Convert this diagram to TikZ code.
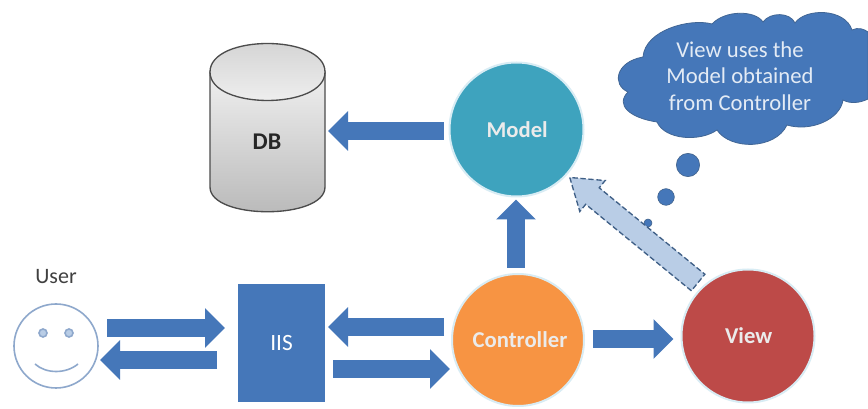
\documentclass[tikz,border=0pt]{standalone}
\usepackage{fontspec}
\setmainfont{Carlito}
\usetikzlibrary{arrows.meta,calc}
\definecolor{blk}{HTML}{4577B9}
\definecolor{modelc}{HTML}{3EA3BE}
\definecolor{ctrlc}{HTML}{F79443}
\definecolor{viewc}{HTML}{BD4A48}
\definecolor{rimc}{HTML}{D8ECF4}
\definecolor{facec}{HTML}{8EA8CC}
\definecolor{dashc}{HTML}{3F5F86}
\definecolor{palec}{HTML}{B9CDE6}
\tikzset{
  x=.75pt,y=-.75pt,
  ball/.style={circle,inner sep=0pt,outer sep=0pt,minimum size=#1*.75pt,draw=rimc,line width=1.5pt,text=white!92!black,font=\fontsize{17}{20}\selectfont\bfseries},
  blockarrow/.style={draw=blk,line width=14pt,-{Triangle[length=15pt,width=29pt,fill=blk]}},
  labeltext/.style={inner sep=0pt,align=center,font=\fontsize{16.5}{18}\selectfont},
  bubble/.style={circle,fill=blk,draw=dashc,line width=.4pt,inner sep=0pt},
}
\begin{document}
\begin{tikzpicture}
\useasboundingbox (0,0) rectangle (868,409);
\fill[white] (0,0) rectangle (868,409);
% DB
\shade[top color=white!88!gray,bottom color=black!28,draw=black!70,line width=1pt]
  (210,72) -- (210,187) .. controls (210,220) and (325,220) .. (325,187) -- (325,72) -- cycle;
\shade[top color=black!18,bottom color=black!5,draw=black!70,line width=1pt]
  (210,72) .. controls (210,34) and (325,34) .. (325,72) .. controls (325,110) and (210,110) .. (210,72) -- cycle;
\node[inner sep=0pt,outer sep=0pt,minimum width=86.25pt,minimum height=126pt] (db) at (267.5,128) {};
\node[inner sep=0pt,text=black!85,font=\fontsize{18}{20}\selectfont\bfseries] (dblabel) at (267,142) {DB};
% circles
\node[ball=134,fill=modelc] (model) at (516.5,129.5) {\hspace{1pt}Model};
\node[ball=132,fill=ctrlc] (ctrl) at (518,340) {\hspace{3pt}Controller};
\node[ball=133,fill=viewc] (view) at (748,336) {\hspace{1pt}View};
% IIS
\node[inner sep=0pt,outer sep=0pt,minimum width=65.25pt,minimum height=88.5pt,fill=blk,text=white,font=\fontsize{17.5}{20}\selectfont] (iis) at (281.5,343) {IIS};
% user
\node[circle,draw=facec,line width=1.2pt,minimum size=63pt,inner sep=0pt,outer sep=0pt] (user) at (56,346) {};
\node[circle,draw=facec,line width=1.2pt,fill=palec,minimum size=6pt,inner sep=0pt] (eyeL) at (43,333) {};
\node[circle,draw=facec,line width=1.2pt,fill=palec,minimum size=6pt,inner sep=0pt] (eyeR) at (69,333) {};
\draw[facec,line width=1.2pt] (35,364) .. controls (46,374) and (66,374) .. (78,364);
\node[labeltext,text=black!75] (userlabel) at (56,277) {User};
% block arrows
\draw[blockarrow] ($(model.west)+(-6,1.5)$) -- ($(db.east)+(3,3)$);
\draw[blockarrow] ($(user.east)+(9,-18)$) -- ($(iis.west)+(-13,-15)$);
\draw[blockarrow] ($(iis.west)+(-21,17)$) -- ($(user.east)+(2,14)$);
\draw[blockarrow] ($(ctrl.west)+(-8,-13)$) -- ($(iis.east)+(3,-16)$);
\draw[blockarrow] ($(iis.east)+(8,26)$) -- ($(ctrl.west)+(-2,29)$);
\draw[blockarrow] ($(ctrl.north)+(-2,-6)$) -- ($(model.south)+(-.5,3)$);
\draw[blockarrow] ($(ctrl.east)+(9,-1)$) -- ($(view.west)+(-8,3)$);
% cloud
\draw[fill=blk,draw=dashc!70!blk,line width=.6pt]
  (643,57) .. controls (645,30) and (690,18) .. (712,24)
  .. controls (725,10) and (755,10) .. (763,22)
  .. controls (770,12) and (790,12) .. (795,23)
  .. controls (805,8) and (845,8) .. (852,30)
  .. controls (858,27) and (864,29) .. (868,32)
  -- (868,99)
  .. controls (860,103) and (850,104) .. (843,100)
  .. controls (840,120) and (810,132) .. (787,125)
  .. controls (775,150) and (730,150) .. (717,130)
  .. controls (700,142) and (665,140) .. (657,122)
  .. controls (630,118) and (615,105) .. (628,92)
  .. controls (612,85) and (615,62) .. (643,57) -- cycle;
\node[labeltext,text=white!85!blk,font=\fontsize{17}{20}\selectfont] (cloudtext) at (740,76) {View uses the\\Model obtained\\from Controller};
\node[bubble,minimum size=17.5pt] (b1) at (688,165) {};
\node[bubble,minimum size=12.5pt] (b2) at (666,197) {};
\node[bubble,minimum size=6pt] (b3) at (648,223) {};
% dashed arrow View -> Model
\coordinate (tip) at ($(model.center)!1.07!(model.-42)$);
\coordinate (tail) at ($(view.center)!1.1!(view.133)$);
\coordinate (neck) at ($(tip)!22pt!(tail)$);
\draw[fill=palec,draw=dashc,line width=1pt,dash pattern=on 4pt off 2pt]
  ($(tail)!8pt!90:(tip)$) -- ($(neck)!8pt!90:(tip)$) -- ($(neck)!15pt!90:(tip)$) -- (tip)
  -- ($(neck)!15pt!-90:(tip)$) -- ($(neck)!8pt!-90:(tip)$) -- ($(tail)!8pt!-90:(tip)$) -- cycle;
\end{tikzpicture}
\end{document}
